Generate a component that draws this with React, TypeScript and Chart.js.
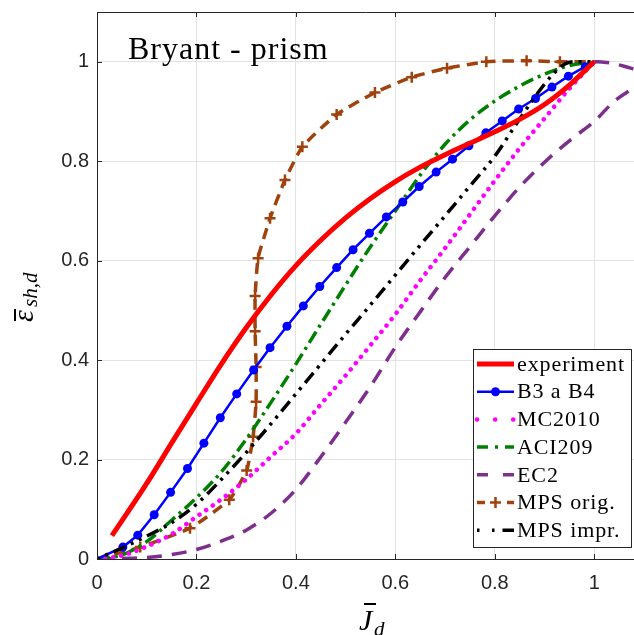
import React, { useEffect, useRef } from "react";
import { Chart, registerables } from "chart.js";
Chart.register(...registerables);

// ---- data ----
const expX = [0.03, 0.1, 0.15, 0.2, 0.25, 0.3, 0.35, 0.4, 0.45, 0.5, 0.55, 0.6, 0.65, 0.7, 0.75, 0.8, 0.85, 0.9, 0.95, 1.0];
const expY = [0.047, 0.152, 0.233, 0.313, 0.392, 0.465, 0.531, 0.59, 0.641, 0.686, 0.725, 0.759, 0.788, 0.813, 0.836, 0.859, 0.884, 0.914, 0.953, 1.0];

const b3X = [0, 0.052, 0.082, 0.115, 0.148, 0.182, 0.215, 0.248, 0.281, 0.315, 0.348, 0.382, 0.415, 0.448, 0.482, 0.515, 0.548, 0.582, 0.615, 0.648, 0.682, 0.715, 0.748, 0.782, 0.815, 0.848, 0.882, 0.915, 0.948, 0.982, 1.0];
const b3Y = [0, 0.024, 0.048, 0.089, 0.134, 0.182, 0.233, 0.284, 0.332, 0.38, 0.425, 0.468, 0.509, 0.548, 0.586, 0.622, 0.655, 0.688, 0.718, 0.749, 0.778, 0.804, 0.831, 0.857, 0.881, 0.905, 0.926, 0.949, 0.971, 0.99, 1.0];

const gridX = [0, 0.05, 0.1, 0.15, 0.2, 0.25, 0.3, 0.35, 0.4, 0.45, 0.5, 0.55, 0.6, 0.65, 0.7, 0.75, 0.8, 0.85, 0.9, 0.95, 1.0];
const mcY = [0, 0.007, 0.025, 0.05, 0.085, 0.12, 0.16, 0.206, 0.252, 0.311, 0.369, 0.43, 0.492, 0.56, 0.625, 0.693, 0.761, 0.826, 0.886, 0.946, 1.0];
const aciY = [0, 0.008, 0.035, 0.078, 0.123, 0.175, 0.241, 0.315, 0.392, 0.472, 0.551, 0.628, 0.7, 0.772, 0.834, 0.883, 0.921, 0.951, 0.975, 0.992, 1.0];
const ec2Y = [0, 0.001, 0.003, 0.009, 0.019, 0.036, 0.058, 0.092, 0.14, 0.205, 0.275, 0.347, 0.426, 0.497, 0.566, 0.628, 0.69, 0.748, 0.798, 0.841, 0.88];
const ec2TailX = [1.0, 1.04, 1.08];
const ec2TailY = [0.88, 0.92, 0.948];
const ec2bX = [1.0, 1.02, 1.04, 1.06, 1.08];
const ec2bY = [1.0, 0.999, 0.996, 0.991, 0.985];

const mpsoX = [0, 0.087, 0.187, 0.266, 0.301, 0.314, 0.32, 0.32, 0.318, 0.318, 0.324, 0.348, 0.378, 0.413, 0.482, 0.559, 0.633, 0.704, 0.783, 0.864, 0.931, 1.0];
const mpsoY = [0, 0.024, 0.062, 0.119, 0.178, 0.246, 0.316, 0.386, 0.458, 0.529, 0.605, 0.685, 0.762, 0.829, 0.894, 0.938, 0.969, 0.987, 1.0, 1.002, 1.0, 1.0];

const mpsiX = [0, 0.05, 0.1, 0.15, 0.2, 0.25, 0.3, 0.35, 0.4, 0.45, 0.5, 0.55, 0.6, 0.65, 0.7, 0.75, 0.8, 0.85, 0.9, 0.92, 0.94, 0.96, 1.0];
const mpsiY = [0, 0.022, 0.046, 0.073, 0.11, 0.16, 0.214, 0.272, 0.332, 0.392, 0.452, 0.511, 0.571, 0.631, 0.69, 0.75, 0.81, 0.885, 0.955, 0.978, 0.995, 1.0, 1.0];

const legendLabels = ["experiment", "B3 a B4", "MC2010", "ACI209", "EC2", "MPS orig.", "MPS impr."];
const xTicks = [0, 0.2, 0.4, 0.6, 0.8, 1];
const yTicks = [0, 0.2, 0.4, 0.6, 0.8, 1];
const titleText = "Bryant - prism";

// ---- styles ----
const RED = "#ff0000";
const BLUE = "#0000ff";
const MAGENTA = "#ff00ff";
const GREEN = "#007f00";
const PURPLE = "#7e2f8e";
const BROWN = "#a0420d";
const BLACK = "#000000";
const AXIS = "#262626";

const pts = (xs: number[], ys: number[]) => xs.map((x, i) => ({ x, y: ys[i] }));
const hideEnds = (xs: number[], r: number) => xs.map((_, i) => (i === 0 || i === xs.length - 1 ? 0 : r));

export default function App() {
  const ref = useRef<HTMLCanvasElement>(null);
  useEffect(() => {
    const canvas = ref.current!;
    const legendStyles = [
      { color: RED, width: 5, dash: [], cap: "butt" },
      { color: BLUE, width: 2.5, dash: [], cap: "butt", marker: "circle" },
      { color: MAGENTA, width: 4.5, dash: [0.1, 18], cap: "round" },
      { color: GREEN, width: 3.5, dash: [11, 7, 3, 7, 11], cap: "butt" },
      { color: PURPLE, width: 3.5, dash: [11, 15, 11], cap: "butt" },
      { color: BROWN, width: 3.5, dash: [8, 22, 8], cap: "butt", marker: "cross" },
      { color: BLACK, width: 3.5, dash: [2.5, 12.5, 2.5, 8, 12], cap: "butt" },
    ];

    const decor = {
      id: "decor",
      afterDraw(chart: any) {
        const { ctx, chartArea: a, scales } = chart;
        const xs = scales.x, ys = scales.y;
        ctx.save();
        // top border and inward ticks
        ctx.strokeStyle = AXIS;
        ctx.lineWidth = 1;
        ctx.setLineDash([]);
        ctx.beginPath();
        ctx.moveTo(a.left, a.top + 0.5);
        ctx.lineTo(a.right, a.top + 0.5);
        for (const v of xTicks) {
          const px = Math.round(xs.getPixelForValue(v)) + 0.5;
          ctx.moveTo(px, a.bottom);
          ctx.lineTo(px, a.bottom - 5);
          ctx.moveTo(px, a.top);
          ctx.lineTo(px, a.top + 5);
        }
        for (const v of yTicks) {
          const py = Math.round(ys.getPixelForValue(v)) + 0.5;
          ctx.moveTo(a.left, py);
          ctx.lineTo(a.left + 5, py);
        }
        ctx.stroke();

        // title inside the axes
        ctx.fillStyle = "#000";
        ctx.font = '32px "Liberation Serif"';
        (ctx as any).letterSpacing = "1px";
        ctx.textBaseline = "alphabetic";
        ctx.textAlign = "left";
        ctx.fillText(titleText, 128, 59);

        // legend
        const lx = 473, ly = 349, lw = 158, lh = 198;
        ctx.fillStyle = "#fff";
        ctx.fillRect(lx, ly, lw, lh);
        ctx.strokeStyle = AXIS;
        ctx.lineWidth = 1;
        ctx.strokeRect(lx + 0.5, ly + 0.5, lw, lh);
        ctx.font = '22px "Liberation Serif"';
        (ctx as any).letterSpacing = "0.9px";
        ctx.textBaseline = "middle";
        legendLabels.forEach((label, i) => {
          const s: any = legendStyles[i];
          const ry = 364 + i * 27.7;
          ctx.save();
          ctx.strokeStyle = s.color;
          ctx.lineWidth = s.width;
          ctx.lineCap = s.cap;
          ctx.setLineDash(s.dash);
          ctx.beginPath();
          ctx.moveTo(477, ry);
          ctx.lineTo(514, ry);
          ctx.stroke();
          ctx.setLineDash([]);
          ctx.lineCap = "butt";
          if (s.marker === "circle") {
            ctx.fillStyle = s.color;
            ctx.beginPath();
            ctx.arc(495.5, ry, 4.5, 0, Math.PI * 2);
            ctx.fill();
          } else if (s.marker === "cross") {
            ctx.lineWidth = 2.5;
            ctx.beginPath();
            ctx.moveTo(490, ry);
            ctx.lineTo(501, ry);
            ctx.moveTo(495.5, ry - 5.5);
            ctx.lineTo(495.5, ry + 5.5);
            ctx.stroke();
          }
          ctx.restore();
          ctx.fillStyle = "#000";
          ctx.fillText(label, 517, ry + 1);
        });
        (ctx as any).letterSpacing = "0px";

        // x axis label: J-bar with subscript d
        ctx.fillStyle = "#000";
        ctx.textBaseline = "alphabetic";
        ctx.font = 'italic 30px "Liberation Serif"';
        ctx.fillText("J", 359, 630);
        ctx.font = 'italic 21px "Liberation Serif"';
        ctx.fillText("d", 374, 636);
        ctx.fillRect(364, 603, 12, 2);

        // y axis label: epsilon-bar with subscript sh,d (rotated)
        ctx.save();
        ctx.translate(33, 322);
        ctx.rotate(-Math.PI / 2);
        ctx.font = 'italic 30px "Liberation Serif"';
        ctx.fillText("\u03b5", 0, 0);
        ctx.fillRect(1, -19, 12, 2);
        ctx.font = 'italic 21px "Liberation Serif"';
        ctx.fillText("sh,d", 15, 4);
        ctx.restore();

        ctx.restore();
      },
    };

    const tickFont = { family: '"Liberation Sans", Arial, sans-serif', size: 20 };
    const fmt = (v: any) => String(Math.round(Number(v) * 10) / 10);

    const chart = new Chart(canvas, {
      type: "line",
      data: {
        datasets: [
          {
            label: "experiment",
            data: pts(expX, expY),
            borderColor: RED,
            borderWidth: 5,
            pointRadius: 0,
            cubicInterpolationMode: "monotone",
            order: 0,
          },
          {
            label: "MPS impr.",
            data: pts(mpsiX, mpsiY),
            borderColor: BLACK,
            borderWidth: 3.5,
            borderDash: [3, 6, 3, 6, 13, 6],
            pointRadius: 0,
            cubicInterpolationMode: "monotone",
            order: 1,
          },
          {
            label: "B3 a B4",
            data: pts(b3X, b3Y),
            borderColor: BLUE,
            borderWidth: 2.5,
            pointRadius: hideEnds(b3X, 4.5),
            pointBackgroundColor: BLUE,
            pointBorderColor: BLUE,
            pointBorderWidth: 0,
            tension: 0,
            order: 2,
          },
          {
            label: "MC2010",
            data: pts(gridX, mcY),
            borderColor: MAGENTA,
            borderWidth: 4.5,
            borderDash: [0.1, 8],
            borderCapStyle: "round",
            pointRadius: 0,
            cubicInterpolationMode: "monotone",
            order: 3,
          },
          {
            label: "ACI209",
            data: pts(gridX, aciY),
            borderColor: GREEN,
            borderWidth: 3.5,
            borderDash: [13, 5, 3, 5],
            pointRadius: 0,
            cubicInterpolationMode: "monotone",
            order: 4,
          },
          {
            label: "EC2",
            data: pts(gridX.concat(ec2TailX.slice(1)), ec2Y.concat(ec2TailY.slice(1))),
            borderColor: PURPLE,
            borderWidth: 3.5,
            borderDash: [15, 10],
            pointRadius: 0,
            cubicInterpolationMode: "monotone",
            order: 5,
          },
          {
            label: "EC2 (beyond 1)",
            data: pts(ec2bX, ec2bY),
            borderColor: PURPLE,
            borderWidth: 3.5,
            borderDash: [15, 10],
            pointRadius: 0,
            cubicInterpolationMode: "monotone",
            order: 6,
          },
          {
            label: "MPS orig.",
            data: pts(mpsoX, mpsoY),
            borderColor: BROWN,
            borderWidth: 3.5,
            borderDash: [11, 7],
            pointRadius: hideEnds(mpsoX, 5.5),
            pointStyle: "cross",
            pointBorderColor: BROWN,
            pointBorderWidth: 2.5,
            tension: 0.15,
            order: 7,
          },
        ] as any,
      },
      options: {
        responsive: false,
        animation: false,
        devicePixelRatio: 1,
        layout: { padding: { top: 12, left: 0, right: 0, bottom: 0 } },
        plugins: { legend: { display: false }, tooltip: { enabled: false }, title: { display: false } },
        events: [],
        scales: {
          x: {
            type: "linear",
            min: 0,
            max: 1.08,
            afterFit: (s: any) => { s.height = 76; s.paddingLeft = 0; s.paddingRight = 0; },
            ticks: { stepSize: 0.2, includeBounds: false, font: tickFont, color: AXIS, padding: 12, callback: fmt, maxRotation: 0 },
            grid: { color: "#e3e3e3", lineWidth: 1, drawTicks: false },
            border: { color: AXIS, width: 1 },
          },
          y: {
            type: "linear",
            min: 0,
            max: 1.1,
            afterFit: (s: any) => { s.width = 97; s.paddingTop = 0; s.paddingBottom = 0; },
            ticks: { stepSize: 0.2, includeBounds: false, font: tickFont, color: AXIS, padding: 8, callback: fmt },
            grid: { color: "#e3e3e3", lineWidth: 1, drawTicks: false },
            border: { color: AXIS, width: 1 },
          },
        },
      } as any,
      plugins: [decor],
    });
    return () => chart.destroy();
  }, []);

  return (
    <div style={{ position: "fixed", left: 0, top: 0, width: 634, height: 635, background: "#fff" }}>
      <canvas ref={ref} width={634} height={635} style={{ display: "block", width: 634, height: 635 }} />
    </div>
  );
}
